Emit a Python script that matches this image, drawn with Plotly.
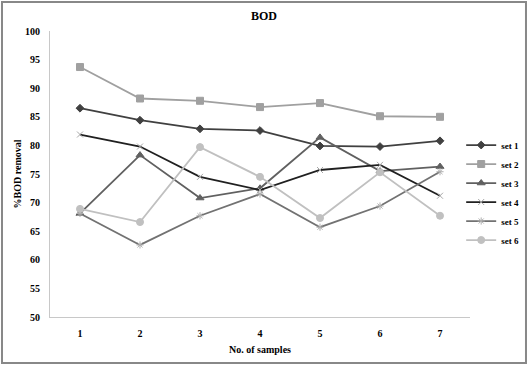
import plotly.graph_objects as go

samples = [1, 2, 3, 4, 5, 6, 7]
set1 = [86.5, 84.4, 82.9, 82.6, 79.9, 79.8, 80.8]
set2 = [93.7, 88.2, 87.8, 86.7, 87.4, 85.1, 85.0]
set3 = [68.1, 78.3, 70.8, 72.5, 81.4, 75.5, 76.3]
set4 = [81.9, 79.8, 74.5, 72.2, 75.7, 76.6, 71.2]
set5 = [68.1, 62.6, 67.7, 71.5, 65.7, 69.4, 75.4]
set6 = [68.9, 66.6, 79.7, 74.5, 67.3, 75.3, 67.7]
y_ticks = [50, 55, 60, 65, 70, 75, 80, 85, 90, 95, 100]

series_names = ["set 1", "set 2", "set 3", "set 4", "set 5", "set 6"]
series_vals = [set1, set2, set3, set4, set5, set6]
line_colors = ["#404040", "#a0a0a0", "#606060", "#202020", "#727272", "#c0c0c0"]
marker_colors = ["#404040", "#a0a0a0", "#606060", "#a8a8a8", "#b0b0b0", "#c0c0c0"]
symbols = ["diamond", "square", "triangle-up", "x-thin-open", "asterisk-open", "circle"]
msizes = [6, 7, 7, 6, 6, 7]

fig = go.Figure()
for name, vals, lc, mc, sym, ms in zip(series_names, series_vals, line_colors, marker_colors, symbols, msizes):
    fig.add_trace(go.Scatter(
        x=samples, y=vals, name=f"<b>{name}</b>", mode="lines+markers",
        line=dict(color=lc, width=1.8),
        marker=dict(symbol=sym, size=ms, color=mc, line=dict(color=mc, width=1)),
    ))

font_family = "Liberation Serif, Times New Roman, serif"
fig.update_layout(
    width=528, height=365,
    margin=dict(l=50, r=58, t=31, b=48, autoexpand=False),
    paper_bgcolor="white", plot_bgcolor="white",
    font=dict(family=font_family, size=10, color="black"),
    title=dict(text="<b>BOD</b>", x=0.5, xanchor="center", y=0.958, yanchor="middle",
               font=dict(family=font_family, size=12, color="black")),
    showlegend=True,
    legend=dict(x=0.979, y=0.652, xanchor="left", yanchor="top",
                font=dict(family=font_family, size=9, color="black"),
                itemwidth=30, tracegroupgap=0, bgcolor="rgba(0,0,0,0)"),
    xaxis=dict(range=[0.5, 7.5], tickvals=samples, ticktext=[f"<b>{s}</b>" for s in samples],
               showgrid=False, zeroline=False, showline=True, linecolor="#c8c8c8", linewidth=1,
               ticks="", ticklabelstandoff=7,
               title=dict(text="<b>No. of samples</b>", standoff=7,
                          font=dict(family=font_family, size=10, color="black"))),
    yaxis=dict(range=[50, 100], tickvals=y_ticks,
               ticktext=[f"<b>{v}</b>" for v in y_ticks],
               showgrid=False, zeroline=False, showline=True, linecolor="#c8c8c8", linewidth=1,
               ticks="", ticklabelstandoff=7,
               title=dict(text="<b>%BOD removal</b>", standoff=1,
                          font=dict(family=font_family, size=10, color="black"))),
    shapes=[dict(type="rect", xref="paper", yref="paper",
                 x0=-0.1143, x1=1.1333, y0=-0.1608, y1=1.1014,
                 line=dict(color="#888888", width=2), fillcolor="rgba(0,0,0,0)", layer="above")],
)

fig.write_html("out.html", config={"displayModeBar": False},
               post_script="document.body.style.margin='0';")
